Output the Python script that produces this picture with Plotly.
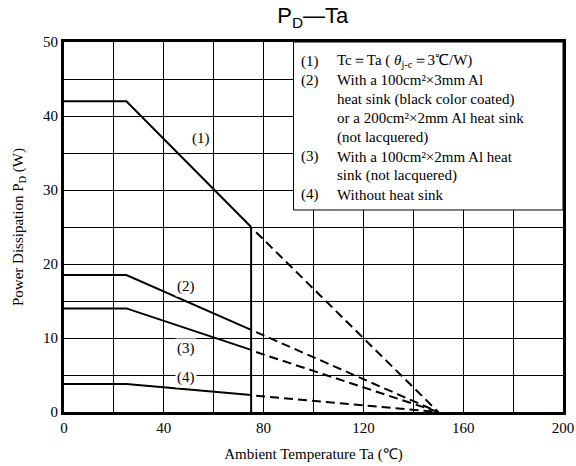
import plotly.graph_objects as go

# Data
ta_solid = [0, 25, 75]            # Ambient temperature (°C), solid section
ta_dash = [77, 150]               # dashed extrapolation
pd_solid = {
    "(1)": [42, 42, 25],
    "(2)": [18.5, 18.5, 11.1],
    "(3)": [14, 14, 8.4],
    "(4)": [3.8, 3.8, 2.3],
}
pd_dash = {
    "(1)": [24.3, 0],
    "(2)": [10.8, 0],
    "(3)": [8.1, 0],
    "(4)": [2.2, 0],
}
cut_x = [75, 75]
cut_y = [0, 25]
label_x = [55, 49, 49, 49]
label_y = [37.0, 17, 8.6, 4.6]

legend_nums = ["(1)", "(2)", "", "", "", "(3)", "", "(4)"]
legend_lines = [
    "Tc＝Ta ( <i>θ</i><sub>j-c</sub>＝3℃/W)",
    "With a 100cm²×3mm Al",
    "heat sink (black color coated)",
    "or a 200cm²×2mm Al heat sink",
    "(not lacquered)",
    "With a 100cm²×2mm Al heat",
    "sink (not lacquered)",
    "Without heat sink",
]

serif = "Liberation Serif, Times New Roman, serif"
fig = go.Figure()

for name in pd_solid:
    fig.add_trace(go.Scatter(x=ta_solid, y=pd_solid[name], mode="lines",
                             line=dict(color="black", width=2), showlegend=False))
    fig.add_trace(go.Scatter(x=ta_dash, y=pd_dash[name], mode="lines",
                             line=dict(color="black", width=2, dash="9px,5px"), showlegend=False))
fig.add_trace(go.Scatter(x=cut_x, y=cut_y, mode="lines",
                         line=dict(color="black", width=2), showlegend=False))

for name, lx, ly in zip(pd_solid.keys(), label_x, label_y):
    fig.add_annotation(x=lx, y=ly, text=name, showarrow=False, bgcolor="white",
                       font=dict(family=serif, size=15, color="black"))

# legend box
fig.add_shape(type="rect", xref="x", yref="y", x0=92, x1=200, y0=27.3, y1=50,
              fillcolor="white", line=dict(color="black", width=1), layer="above")
top_px = 61
for i, (n, t) in enumerate(zip(legend_nums, legend_lines)):
    yy = 50 - (top_px - 42 + i * 19.1) / 7.4
    if n:
        fig.add_annotation(x=94, y=yy, text=n, showarrow=False, xanchor="left",
                           font=dict(family=serif, size=15, color="black"))
    fig.add_annotation(x=108.5, y=yy, text=t, showarrow=False, xanchor="left",
                       font=dict(family=serif, size=15, color="black"))

grid = dict(showgrid=True, gridcolor="black", gridwidth=1)
fig.update_layout(
    width=576, height=466,
    margin=dict(l=64, r=13, t=42, b=54, autoexpand=False),
    paper_bgcolor="white", plot_bgcolor="white",
    title=dict(text="P<sub>D</sub>—Ta", x=0.543, xanchor="center", y=0.967, yanchor="middle",
               font=dict(family="Liberation Sans, Arial, sans-serif", size=22, color="black")),
    xaxis=dict(range=[0, 200], dtick=40, tick0=0, **grid, minor=dict(dtick=20, **grid),
               zeroline=False, showline=True, mirror=True, automargin=False,
               linecolor="black", linewidth=3, ticks="",
               tickfont=dict(family=serif, size=15, color="black"),
               title=dict(text="Ambient Temperature Ta (℃)", standoff=14,
                          font=dict(family=serif, size=15, color="black"))),
    yaxis=dict(range=[0, 50], dtick=10, tick0=0, **grid, minor=dict(dtick=5, **grid),
               zeroline=False, showline=True, mirror=True, automargin=False,
               linecolor="black", linewidth=3, ticks="",
               tickfont=dict(family=serif, size=15, color="black"),
               title=dict(text="Power Dissipation P<sub>D</sub> (W)", standoff=16,
                          font=dict(family=serif, size=15, color="black"))),
)

fig.write_html("out.html", config={"displayModeBar": False},
               post_script="document.body.style.margin='0';")
